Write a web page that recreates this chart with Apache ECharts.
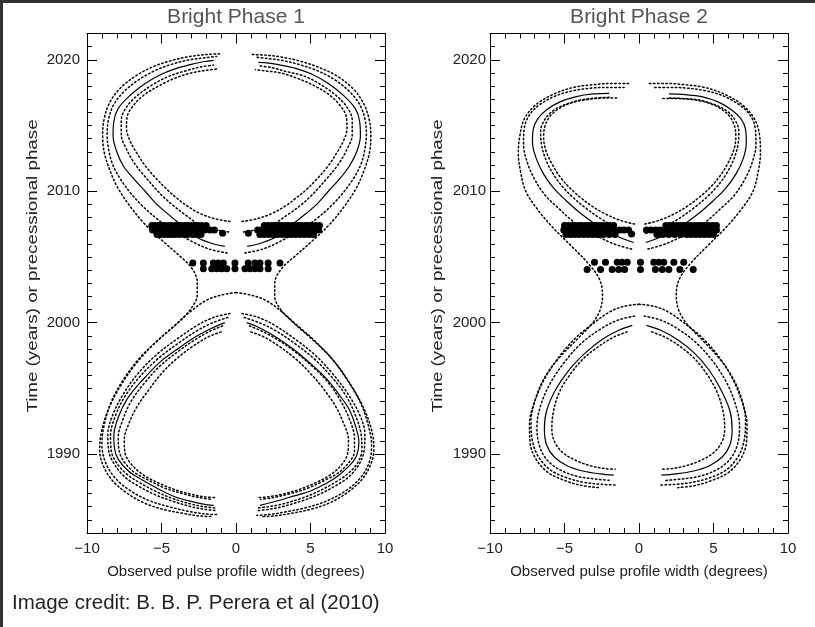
<!DOCTYPE html>
<html>
<head>
<meta charset="utf-8">
<script src="https://cdn.jsdelivr.net/npm/echarts@6/dist/echarts.min.js"></script>
<style>
  html, body { margin: 0; padding: 0; background: #fff; }
  #chart { width: 815px; height: 627px; }
</style>
</head>
<body>
<div id="chart"></div>
<script>
// ---- axes and labels ----
const widthRange = [-10, 10];
const yearRange = [1984, 2022];
const yearTicks = [1990, 2000, 2010, 2020];
const panelTitles = ['Bright Phase 1', 'Bright Phase 2'];
const xTitle = 'Observed pulse profile width (degrees)';
const yTitle = 'Time (years) or precessional phase';
const creditText = 'Image credit: B. B. P. Perera et al (2010)';

// ---- Bright Phase 1: best-fit model (solid), [width, year] ----
const bp1UpperLeft = [[-0.75,2005.8],[-1.8,2006.1],[-2.8,2006.6],[-3.75,2007.5],[-4.6,2008.3],[-5.4,2009.1],[-6.1,2010.0],[-6.9,2011.0],[-7.55,2011.9],[-8.0,2013.0],[-8.25,2014.2],[-8.2,2015.3],[-7.9,2016.3],[-7.1,2017.3],[-6.1,2018.2],[-5.0,2018.9],[-4.0,2019.35],[-3.0,2019.65],[-2.2,2019.85],[-1.5,2019.95]];
const bp1UpperRight = [[0.75,2005.8],[1.8,2006.1],[2.8,2006.6],[3.8,2007.5],[4.7,2008.3],[5.5,2009.1],[6.2,2010.0],[7.0,2011.0],[7.6,2011.9],[8.1,2013.0],[8.35,2014.2],[8.3,2015.3],[8.0,2016.3],[7.2,2017.3],[6.2,2018.2],[5.1,2018.9],[4.0,2019.35],[3.0,2019.6],[2.2,2019.75],[1.5,2019.8]];
const bp1LowerLeft = [[-0.75,2000.0],[-1.6,1999.6],[-2.6,1999.0],[-3.8,1998.1],[-5.1,1997.0],[-6.3,1995.6],[-7.3,1994.2],[-7.9,1992.8],[-8.2,1991.4],[-8.15,1990.4],[-7.9,1989.6],[-7.2,1988.7],[-6.4,1988.1],[-5.3,1987.4],[-4.2,1986.8],[-3.0,1986.4],[-2.2,1986.2],[-1.5,1986.1]];
const bp1LowerRight = [[0.72,2000.0],[1.6,1999.6],[2.7,1998.9],[3.84,1998.0],[5.0,1996.9],[6.1,1995.7],[7.0,1994.4],[7.6,1993.4],[8.0,1992.2],[8.25,1990.9],[8.1,1989.9],[7.6,1989.1],[6.9,1988.4],[6.1,1987.8],[5.0,1987.2],[3.84,1986.8],[2.8,1986.45],[1.6,1986.1]];

// ---- Bright Phase 1: alternative models (dotted) ----
const bp1InnerA_L = [[-0.4,2007.7],[-1.4,2007.9],[-2.4,2008.3],[-3.3,2008.9],[-4.0,2009.5],[-4.6,2010.1],[-5.3,2010.9],[-6.0,2011.8],[-6.6,2012.8],[-7.1,2013.8],[-7.35,2014.8],[-7.3,2015.7],[-6.9,2016.5],[-6.2,2017.3],[-5.2,2018.0],[-4.1,2018.6],[-3.0,2019.0],[-2.0,2019.2],[-1.3,2019.3]];
const bp1InnerB_L = [[-0.5,2006.9],[-1.5,2007.1],[-2.5,2007.5],[-3.4,2008.2],[-4.2,2008.9],[-4.9,2009.6],[-5.4,2010.2],[-6.1,2011.1],[-6.8,2012.1],[-7.35,2013.2],[-7.7,2014.3],[-7.7,2015.4],[-7.35,2016.4],[-6.6,2017.3],[-5.6,2018.1],[-4.5,2018.75],[-3.4,2019.15],[-2.4,2019.45],[-1.5,2019.6]];
const bp1OuterA_L = [[-0.6,2005.3],[-1.8,2005.6],[-3.0,2006.2],[-4.2,2007.0],[-5.3,2007.9],[-6.3,2008.9],[-7.1,2009.9],[-7.8,2011.0],[-8.3,2012.1],[-8.55,2013.2],[-8.65,2014.3],[-8.55,2015.5],[-8.2,2016.6],[-7.5,2017.6],[-6.5,2018.5],[-5.3,2019.25],[-4.2,2019.7],[-3.1,2020.0],[-2.1,2020.15],[-1.3,2020.25]];
const bp1Through_L = [[-1.1,2020.45],[-2.0,2020.4],[-3.1,2020.25],[-4.3,2019.95],[-5.5,2019.5],[-6.7,2018.8],[-7.8,2017.8],[-8.5,2016.7],[-8.85,2015.5],[-8.95,2014.3],[-8.85,2013.0],[-8.5,2011.7],[-8.0,2010.4],[-7.2,2009.0],[-6.2,2007.6],[-5.0,2006.3],[-3.9,2005.2],[-3.0,2004.2],[-2.6,2003.1],[-2.6,2002.1],[-3.0,2001.1],[-3.8,2000.1],[-5.0,1998.9],[-6.4,1997.4],[-7.6,1995.6],[-8.4,1993.9],[-8.85,1992.2],[-9.0,1990.8],[-8.8,1989.5],[-8.2,1988.3],[-7.2,1987.3],[-5.9,1986.5],[-4.5,1986.0],[-3.2,1985.65],[-2.1,1985.45],[-1.3,1985.4]];
const bp1LowOuter_L = [[-0.4,2000.7],[-1.5,2000.4],[-2.6,1999.8],[-3.9,1998.8],[-5.3,1997.6],[-6.6,1996.1],[-7.6,1994.5],[-8.3,1992.9],[-8.6,1991.5],[-8.55,1990.3],[-8.2,1989.3],[-7.5,1988.3],[-6.6,1987.6],[-5.4,1986.9],[-4.2,1986.4],[-3.0,1986.0],[-2.1,1985.8],[-1.3,1985.7]];
const bp1LowOuterB_L = [[-0.55,2000.4],[-1.55,2000.0],[-2.6,1999.4],[-3.85,1998.45],[-5.2,1997.3],[-6.45,1995.9],[-7.45,1994.4],[-8.1,1992.9],[-8.42,1991.4],[-8.38,1990.3],[-8.05,1989.4],[-7.35,1988.5],[-6.5,1987.85],[-5.35,1987.15],[-4.2,1986.6],[-3.0,1986.2],[-2.15,1986.0],[-1.35,1985.9]];
const bp1Dome_L = [[0,2002.3],[-1.0,2002.1],[-2.0,2001.7],[-3.0,2000.9],[-4.1,1999.8],[-5.4,1998.5],[-6.7,1996.9],[-7.8,1995.1],[-8.6,1993.3],[-9.05,1991.6],[-9.15,1990.3],[-8.9,1989.1],[-8.3,1988.0],[-7.4,1987.1],[-6.2,1986.3],[-4.9,1985.8],[-3.6,1985.5],[-2.5,1985.3],[-1.7,1985.25]];
const bp1LowInner_L = [[-0.9,1999.75],[-1.75,1999.35],[-2.75,1998.7],[-3.9,1997.8],[-5.1,1996.7],[-6.15,1995.4],[-7.05,1994.0],[-7.6,1992.6],[-7.9,1991.3],[-7.85,1990.3],[-7.5,1989.4],[-6.8,1988.6],[-5.85,1988.0],[-4.75,1987.4],[-3.6,1987.0],[-2.5,1986.7],[-1.6,1986.55]];
const bp1LowInnerB_L = [[-1.0,1999.3],[-1.9,1998.9],[-2.9,1998.2],[-3.95,1997.3],[-4.95,1996.2],[-5.85,1994.9],[-6.65,1993.6],[-7.2,1992.3],[-7.5,1991.1],[-7.45,1990.1],[-7.0,1989.2],[-6.2,1988.4],[-5.2,1987.8],[-4.1,1987.3],[-3.0,1986.95],[-2.1,1986.75],[-1.4,1986.7]];
const bp1InnerA_R = [[0.4,2007.7],[1.4,2007.9],[2.4,2008.3],[3.35,2008.9],[4.05,2009.5],[4.7,2010.1],[5.4,2010.9],[6.1,2011.8],[6.7,2012.8],[7.2,2013.8],[7.45,2014.8],[7.4,2015.7],[7.0,2016.5],[6.3,2017.3],[5.3,2018.0],[4.1,2018.6],[3.0,2019.0],[2.0,2019.15],[1.3,2019.25]];
const bp1InnerB_R = [[0.5,2006.9],[1.5,2007.1],[2.5,2007.5],[3.45,2008.2],[4.3,2008.9],[5.0,2009.6],[5.5,2010.2],[6.2,2011.1],[6.9,2012.1],[7.45,2013.2],[7.8,2014.3],[7.8,2015.4],[7.45,2016.4],[6.7,2017.3],[5.7,2018.1],[4.6,2018.75],[3.4,2019.1],[2.4,2019.4],[1.5,2019.55]];
const bp1OuterA_R = [[0.6,2005.3],[1.8,2005.6],[3.0,2006.2],[4.25,2007.0],[5.4,2007.9],[6.4,2008.9],[7.2,2009.9],[7.9,2011.0],[8.4,2012.1],[8.65,2013.2],[8.75,2014.3],[8.65,2015.5],[8.3,2016.6],[7.6,2017.6],[6.6,2018.5],[5.4,2019.2],[4.2,2019.65],[3.1,2019.95],[2.1,2020.1],[1.3,2020.2]];
const bp1Through_R = [[1.1,2020.4],[2.0,2020.35],[3.1,2020.2],[4.3,2019.9],[5.5,2019.45],[6.8,2018.75],[7.9,2017.75],[8.6,2016.6],[8.95,2015.4],[9.05,2014.2],[8.95,2012.9],[8.6,2011.6],[8.1,2010.3],[7.3,2008.9],[6.3,2007.5],[5.1,2006.2],[4.0,2005.1],[3.05,2004.1],[2.6,2003.0],[2.6,2002.0],[3.0,2001.0],[3.85,2000.0],[5.05,1998.8],[6.4,1997.3],[7.55,1995.5],[8.4,1993.8],[8.9,1992.1],[9.1,1990.7],[8.95,1989.4],[8.35,1988.2],[7.35,1987.2],[6.0,1986.4],[4.6,1985.9],[3.3,1985.6],[2.2,1985.4],[1.4,1985.35]];
const bp1LowOuter_R = [[0.4,2000.7],[1.5,2000.4],[2.6,1999.8],[3.9,1998.8],[5.25,1997.6],[6.5,1996.1],[7.5,1994.6],[8.3,1993.0],[8.65,1991.5],[8.6,1990.3],[8.3,1989.3],[7.6,1988.3],[6.7,1987.6],[5.5,1986.9],[4.3,1986.4],[3.1,1986.0],[2.2,1985.8],[1.4,1985.7]];
const bp1LowOuterB_R = [[0.55,2000.4],[1.55,2000.0],[2.65,1999.4],[3.9,1998.45],[5.2,1997.3],[6.4,1995.9],[7.35,1994.5],[8.0,1993.0],[8.4,1991.5],[8.45,1990.4],[8.2,1989.4],[7.5,1988.5],[6.65,1987.85],[5.5,1987.15],[4.3,1986.6],[3.1,1986.2],[2.2,1986.0],[1.4,1985.9]];
const bp1Dome_R = [[0,2002.3],[1.0,2002.1],[2.0,2001.7],[3.0,2000.9],[4.1,1999.8],[5.4,1998.5],[6.7,1996.9],[7.8,1995.1],[8.65,1993.3],[9.15,1991.6],[9.25,1990.3],[9.0,1989.1],[8.4,1988.0],[7.5,1987.1],[6.3,1986.3],[5.0,1985.8],[3.7,1985.5],[2.6,1985.3],[1.8,1985.25]];
const bp1LowInner_R = [[0.9,1999.75],[1.75,1999.35],[2.8,1998.7],[3.95,1997.8],[5.1,1996.7],[6.15,1995.5],[7.0,1994.1],[7.6,1992.7],[7.95,1991.2],[7.95,1990.2],[7.6,1989.4],[6.9,1988.6],[5.95,1988.0],[4.8,1987.4],[3.65,1987.0],[2.55,1986.7],[1.65,1986.55]];
const bp1LowInnerB_R = [[1.0,1999.3],[1.9,1998.9],[2.9,1998.2],[3.95,1997.3],[4.95,1996.2],[5.85,1995.0],[6.65,1993.7],[7.2,1992.4],[7.55,1991.1],[7.5,1990.1],[7.1,1989.2],[6.3,1988.4],[5.3,1987.8],[4.2,1987.3],[3.1,1986.95],[2.15,1986.75],[1.45,1986.7]];

// ---- Bright Phase 1: measured widths ----
const bp1Observed = [
  [-5.65,2007.4],[-5.45,2007.4],[-5.2,2007.4],[-5.0,2007.4],[-4.8,2007.4],[-4.55,2007.4],[-4.35,2007.4],[-4.1,2007.4],[-3.9,2007.4],[-3.7,2007.4],[-3.45,2007.4],[-3.25,2007.4],[-3.0,2007.4],[-2.8,2007.4],[-2.55,2007.4],[-2.3,2007.4],[-2.0,2007.4],
  [-5.6,2007.05],[-5.4,2007.05],[-5.15,2007.05],[-4.95,2007.05],[-4.7,2007.05],[-4.5,2007.05],[-4.3,2007.05],[-4.05,2007.05],[-3.85,2007.05],[-3.6,2007.05],[-3.4,2007.05],[-3.2,2007.05],[-2.95,2007.05],[-2.7,2007.05],[-2.4,2007.05],[-2.1,2007.05],[-1.75,2007.05],[-1.45,2007.05],
  [-5.3,2006.7],[-5.05,2006.7],[-4.8,2006.7],[-4.55,2006.7],[-4.35,2006.7],[-4.1,2006.7],[-3.8,2006.7],[-3.5,2006.7],[-3.25,2006.7],[-2.9,2006.7],[-2.6,2006.7],[-2.35,2006.7],[-0.9,2006.8],
  [1.9,2007.4],[2.15,2007.4],[2.4,2007.4],[2.6,2007.4],[2.85,2007.4],[3.05,2007.4],[3.3,2007.4],[3.5,2007.4],[3.75,2007.4],[3.95,2007.4],[4.2,2007.4],[4.4,2007.4],[4.65,2007.4],[4.85,2007.4],[5.1,2007.4],[5.35,2007.4],[5.6,2007.4],
  [1.45,2007.05],[1.7,2007.05],[2.0,2007.05],[2.25,2007.05],[2.5,2007.05],[2.75,2007.05],[3.0,2007.05],[3.2,2007.05],[3.45,2007.05],[3.7,2007.05],[3.9,2007.05],[4.15,2007.05],[4.4,2007.05],[4.6,2007.05],[4.85,2007.05],[5.1,2007.05],[5.35,2007.05],[5.55,2007.05],
  [0.83,2006.8],[1.6,2006.7],[1.9,2006.7],[2.2,2006.7],[2.5,2006.7],[2.8,2006.7],[3.1,2006.7],[3.4,2006.7],[3.7,2006.7],[4.0,2006.7],[4.3,2006.7],[4.6,2006.7],[4.9,2006.7],[5.2,2006.7],
  [-2.9,2004.55],[-2.19,2004.55],[-1.52,2004.55],[-1.19,2004.55],[-0.85,2004.55],[-0.07,2004.55],[0.82,2004.55],[1.27,2004.55],[1.61,2004.55],[2.16,2004.55],[2.95,2004.55],
  [-2.19,2004.1],[-1.63,2004.1],[-1.29,2004.1],[-0.96,2004.1],[-0.62,2004.1],[-0.07,2004.1],[0.6,2004.1],[0.94,2004.1],[1.27,2004.1],[1.61,2004.1],[2.16,2004.1]
];

// ---- Bright Phase 2: best-fit model (solid) ----
const bp2UpperLeft = [[-0.35,2006.1],[-1.5,2006.6],[-2.8,2007.4],[-3.9,2008.3],[-4.9,2009.3],[-5.7,2010.2],[-6.4,2011.3],[-6.9,2012.5],[-7.15,2013.7],[-7.1,2014.7],[-6.8,2015.5],[-6.2,2016.2],[-5.3,2016.8],[-4.2,2017.2],[-3.1,2017.4],[-2.0,2017.45]];
const bp2UpperRight = [[0.45,2006.1],[1.6,2006.6],[2.9,2007.4],[4.0,2008.3],[5.0,2009.3],[5.8,2010.2],[6.5,2011.3],[7.0,2012.5],[7.2,2013.7],[7.15,2014.7],[6.85,2015.5],[6.2,2016.2],[5.3,2016.8],[4.2,2017.2],[3.1,2017.35],[2.0,2017.4]];
const bp2LowerLeft = [[-0.45,1999.8],[-1.4,1999.4],[-2.5,1998.7],[-3.6,1997.7],[-4.7,1996.4],[-5.6,1994.9],[-6.2,1993.3],[-6.35,1991.9],[-6.2,1990.7],[-5.7,1989.8],[-4.8,1989.1],[-3.7,1988.7],[-2.6,1988.5],[-1.7,1988.4]];
const bp2LowerRight = [[0.5,1999.8],[1.5,1999.4],[2.6,1998.7],[3.7,1997.7],[4.7,1996.4],[5.5,1994.9],[6.1,1993.3],[6.25,1991.9],[6.1,1990.7],[5.6,1989.8],[4.7,1989.1],[3.6,1988.7],[2.5,1988.5],[1.5,1988.4]];

// ---- Bright Phase 2: alternative models (dotted) ----
const bp2InnerA_L = [[-0.3,2007.5],[-1.3,2007.8],[-2.3,2008.3],[-3.2,2008.9],[-3.9,2009.5],[-4.6,2010.2],[-5.3,2011.1],[-5.85,2012.1],[-6.25,2013.1],[-6.4,2014.1],[-6.3,2015.0],[-5.9,2015.8],[-5.2,2016.4],[-4.3,2016.8],[-3.3,2017.0],[-2.3,2017.1],[-1.5,2017.1]];
const bp2InnerB_L = [[-0.3,2006.8],[-1.4,2007.2],[-2.55,2007.9],[-3.55,2008.7],[-4.4,2009.5],[-5.1,2010.3],[-5.75,2011.3],[-6.25,2012.4],[-6.55,2013.6],[-6.6,2014.6],[-6.35,2015.4],[-5.8,2016.1],[-4.95,2016.6],[-3.9,2016.95],[-2.85,2017.1],[-1.9,2017.15]];
const bp2OuterA_L = [[-0.5,2005.6],[-1.7,2006.0],[-3.0,2006.7],[-4.3,2007.6],[-5.4,2008.7],[-6.3,2009.7],[-7.0,2010.9],[-7.5,2012.2],[-7.75,2013.6],[-7.7,2014.8],[-7.35,2015.8],[-6.65,2016.6],[-5.6,2017.25],[-4.4,2017.65],[-3.15,2017.85],[-1.95,2017.9],[-1.0,2017.9]];
const bp2Through_L = [[-0.7,2018.2],[-1.8,2018.2],[-3.1,2018.1],[-4.4,2017.9],[-5.7,2017.4],[-6.9,2016.6],[-7.7,2015.5],[-8.0,2014.2],[-8.1,2012.9],[-7.95,2011.5],[-7.6,2010.0],[-6.8,2008.6],[-5.75,2007.2],[-4.6,2005.9],[-3.4,2004.5],[-2.65,2003.3],[-2.45,2002.1],[-2.6,2001.0],[-3.1,2000.0],[-4.1,1998.8],[-5.3,1997.4],[-6.3,1995.9],[-6.95,1994.2],[-7.25,1992.5],[-7.15,1991.0],[-6.75,1989.8],[-5.95,1988.8],[-4.85,1988.2],[-3.65,1987.85],[-2.5,1987.7],[-1.5,1987.65]];
const bp2LowOuter_L = [[-0.3,2000.5],[-1.4,2000.2],[-2.6,1999.5],[-3.9,1998.4],[-5.0,1997.0],[-5.95,1995.4],[-6.6,1993.7],[-6.85,1992.1],[-6.7,1990.7],[-6.2,1989.6],[-5.3,1988.8],[-4.1,1988.3],[-2.9,1988.1],[-1.9,1988.0]];
const bp2Dome_L = [[0,2001.4],[-1.0,2001.25],[-2.0,2000.8],[-3.0,2000.0],[-4.2,1998.9],[-5.3,1997.5],[-6.3,1995.8],[-7.0,1994.0],[-7.35,1992.3],[-7.3,1990.8],[-6.9,1989.6],[-6.1,1988.6],[-5.0,1988.0],[-3.8,1987.6],[-2.7,1987.45]];
const bp2LowInner_L = [[-0.8,1999.3],[-1.7,1998.9],[-2.7,1998.2],[-3.7,1997.3],[-4.6,1996.1],[-5.35,1994.7],[-5.75,1993.2],[-5.85,1991.9],[-5.65,1990.9],[-5.1,1990.1],[-4.2,1989.5],[-3.2,1989.1],[-2.3,1988.9],[-1.6,1988.85]];
const bp2InnerA_R = [[0.4,2007.5],[1.4,2007.8],[2.4,2008.3],[3.3,2008.9],[4.0,2009.5],[4.7,2010.2],[5.4,2011.1],[5.95,2012.1],[6.35,2013.1],[6.5,2014.1],[6.4,2015.0],[6.0,2015.8],[5.3,2016.4],[4.4,2016.8],[3.4,2017.0],[2.4,2017.05],[1.6,2017.05]];
const bp2InnerB_R = [[0.45,2006.8],[1.5,2007.2],[2.65,2007.9],[3.65,2008.7],[4.5,2009.5],[5.2,2010.3],[5.85,2011.3],[6.35,2012.4],[6.65,2013.6],[6.7,2014.6],[6.45,2015.4],[5.9,2016.1],[5.05,2016.6],[4.0,2016.95],[2.95,2017.05],[2.0,2017.1]];
const bp2OuterA_R = [[0.6,2005.6],[1.8,2006.0],[3.1,2006.7],[4.4,2007.6],[5.5,2008.7],[6.4,2009.7],[7.1,2010.9],[7.6,2012.2],[7.85,2013.6],[7.8,2014.8],[7.45,2015.8],[6.7,2016.6],[5.65,2017.25],[4.45,2017.65],[3.15,2017.85],[1.95,2017.9],[1.0,2017.9]];
const bp2Through_R = [[0.7,2018.2],[1.8,2018.2],[3.1,2018.1],[4.4,2017.9],[5.7,2017.4],[6.9,2016.6],[7.75,2015.5],[8.1,2014.2],[8.15,2012.9],[8.0,2011.5],[7.65,2010.0],[6.85,2008.6],[5.8,2007.2],[4.65,2005.9],[3.45,2004.5],[2.7,2003.3],[2.5,2002.1],[2.65,2001.0],[3.15,2000.0],[4.15,1998.8],[5.3,1997.4],[6.25,1995.9],[6.9,1994.2],[7.15,1992.5],[7.05,1991.0],[6.65,1989.8],[5.85,1988.8],[4.75,1988.2],[3.55,1987.85],[2.4,1987.7],[1.4,1987.65]];
const bp2LowOuter_R = [[0.35,2000.5],[1.45,2000.2],[2.65,1999.5],[3.9,1998.4],[5.0,1997.0],[5.9,1995.4],[6.5,1993.7],[6.75,1992.1],[6.6,1990.7],[6.1,1989.6],[5.2,1988.8],[4.0,1988.3],[2.8,1988.1],[1.8,1988.0]];
const bp2Dome_R = [[0,2001.4],[1.0,2001.25],[2.0,2000.8],[3.0,2000.0],[4.2,1998.9],[5.3,1997.5],[6.25,1995.8],[6.9,1994.0],[7.25,1992.3],[7.2,1990.8],[6.8,1989.6],[6.0,1988.6],[4.9,1988.0],[3.7,1987.6],[2.6,1987.45]];
const bp2LowInner_R = [[0.85,1999.3],[1.75,1998.9],[2.75,1998.2],[3.7,1997.3],[4.55,1996.1],[5.25,1994.7],[5.65,1993.2],[5.75,1991.9],[5.55,1990.9],[5.0,1990.1],[4.1,1989.5],[3.1,1989.1],[2.2,1988.9],[1.5,1988.85]];

// ---- Bright Phase 2: measured widths ----
const bp2Observed = [
  [-5.0,2007.4],[-4.75,2007.4],[-4.5,2007.4],[-4.3,2007.4],[-4.05,2007.4],[-3.85,2007.4],[-3.6,2007.4],[-3.4,2007.4],[-3.15,2007.4],[-2.9,2007.4],[-2.7,2007.4],[-2.45,2007.4],[-2.2,2007.4],[-1.95,2007.4],[-1.7,2007.4],
  [-5.05,2007.05],[-4.8,2007.05],[-4.55,2007.05],[-4.3,2007.05],[-4.1,2007.05],[-3.85,2007.05],[-3.6,2007.05],[-3.4,2007.05],[-3.15,2007.05],[-2.9,2007.05],[-2.65,2007.05],[-2.4,2007.05],[-2.15,2007.05],[-1.9,2007.05],[-1.6,2007.05],[-1.3,2007.05],[-1.0,2007.05],[-0.7,2007.05],
  [-4.9,2006.7],[-4.6,2006.7],[-4.3,2006.7],[-4.0,2006.7],[-3.7,2006.7],[-3.4,2006.7],[-3.1,2006.7],[-2.8,2006.7],[-2.4,2006.7],[-2.0,2006.7],[-1.6,2006.7],[-0.5,2006.75],
  [1.8,2007.4],[2.05,2007.4],[2.3,2007.4],[2.55,2007.4],[2.8,2007.4],[3.0,2007.4],[3.25,2007.4],[3.5,2007.4],[3.75,2007.4],[4.0,2007.4],[4.2,2007.4],[4.45,2007.4],[4.7,2007.4],[4.95,2007.4],[5.2,2007.4],
  [0.5,2007.05],[0.8,2007.05],[1.1,2007.05],[1.4,2007.05],[1.7,2007.05],[1.95,2007.05],[2.2,2007.05],[2.45,2007.05],[2.7,2007.05],[2.95,2007.05],[3.2,2007.05],[3.45,2007.05],[3.7,2007.05],[3.95,2007.05],[4.2,2007.05],[4.45,2007.05],[4.7,2007.05],[4.95,2007.05],[5.2,2007.05],
  [1.2,2006.7],[1.6,2006.7],[2.0,2006.7],[2.4,2006.7],[2.8,2006.7],[3.2,2006.7],[3.5,2006.7],[3.8,2006.7],[4.1,2006.7],[4.4,2006.7],[4.7,2006.7],[5.0,2006.7],
  [-2.99,2004.6],[-2.25,2004.6],[-1.46,2004.6],[-1.13,2004.6],[-0.79,2004.6],[0.1,2004.6],[0.99,2004.6],[1.33,2004.6],[1.66,2004.6],[2.34,2004.6],[3.0,2004.6],
  [-3.48,2004.05],[-2.58,2004.05],[-1.8,2004.05],[-1.36,2004.05],[-0.97,2004.05],[0.1,2004.05],[1.1,2004.05],[1.56,2004.05],[2.0,2004.05],[2.74,2004.05],[3.64,2004.05]
];

const panels = [
  {
    solid: [bp1UpperLeft, bp1UpperRight, bp1LowerLeft, bp1LowerRight],
    dotted: [bp1InnerA_L, bp1InnerB_L, bp1OuterA_L, bp1Through_L, bp1LowOuter_L, bp1LowOuterB_L, bp1Dome_L, bp1LowInner_L, bp1LowInnerB_L,
             bp1InnerA_R, bp1InnerB_R, bp1OuterA_R, bp1Through_R, bp1LowOuter_R, bp1LowOuterB_R, bp1Dome_R, bp1LowInner_R, bp1LowInnerB_R],
    observed: bp1Observed
  },
  {
    solid: [bp2UpperLeft, bp2UpperRight, bp2LowerLeft, bp2LowerRight],
    dotted: [bp2InnerA_L, bp2InnerB_L, bp2OuterA_L, bp2Through_L, bp2LowOuter_L, bp2Dome_L, bp2LowInner_L,
             bp2InnerA_R, bp2InnerB_R, bp2OuterA_R, bp2Through_R, bp2LowOuter_R, bp2Dome_R, bp2LowInner_R],
    observed: bp2Observed
  }
];

// ---- layout ----
const FONT = 'Liberation Sans, Arial, sans-serif';
const INK = '#000';
const grids = [
  { left: 87, top: 33.5, width: 298, height: 499.5 },
  { left: 490, top: 33.5, width: 298, height: 499.5 }
];
const yLabelMargin = [7, 4];
const yTitlePos = [[33, 266], [438, 266]];

const xAxes = [];
const yAxes = [];
const series = [];

const signed = v => (v < 0 ? '\u2212' + (-v) : String(v));

grids.forEach((g, gi) => {
  const baseX = {
    type: 'value', gridIndex: gi, min: widthRange[0], max: widthRange[1], interval: 5,
    axisLine: { onZero: false, lineStyle: { color: INK, width: 1 } },
    axisTick: { inside: true, length: 10, lineStyle: { color: INK, width: 1 } },
    minorTick: { show: true, splitNumber: 5, length: 5, lineStyle: { color: INK, width: 1 } },
    splitLine: { show: false }
  };
  xAxes.push(Object.assign({}, baseX, {
    position: 'bottom',
    axisLabel: { margin: 8, fontFamily: FONT, fontSize: 15, color: '#222', formatter: signed },
    name: xTitle, nameLocation: 'middle', nameGap: 31,
    nameTextStyle: { fontFamily: FONT, fontSize: 15, color: '#222' }
  }));
  xAxes.push(Object.assign({}, baseX, {
    position: 'top',
    axisLabel: { show: false },
    name: panelTitles[gi], nameLocation: 'middle', nameGap: 6,
    nameTextStyle: { fontFamily: FONT, fontSize: 21, color: '#555' }
  }));

  ['left', 'right'].forEach(pos => {
    yAxes.push({
      type: 'value', gridIndex: gi, position: pos, min: yearRange[0], max: yearRange[1],
      axisLine: { onZero: false, lineStyle: { color: INK, width: 1 } },
      axisTick: { inside: true, length: 10, customValues: yearTicks, lineStyle: { color: INK, width: 1 } },
      axisLabel: pos === 'left'
        ? { customValues: yearTicks, margin: yLabelMargin[gi], fontFamily: FONT, fontSize: 15, color: '#222', formatter: v => String(v) }
        : { show: false },
      splitLine: { show: false }
    });
    yAxes.push({
      type: 'value', gridIndex: gi, position: pos, min: yearRange[0], max: yearRange[1], interval: 1,
      axisLine: { show: false, onZero: false },
      axisTick: { inside: true, length: 5, lineStyle: { color: INK, width: 1 } },
      axisLabel: { show: false },
      splitLine: { show: false }
    });
  });

  const p = panels[gi];
  const xi = gi * 2, yi = gi * 4;
  p.dotted.forEach(curve => {
    series.push({
      type: 'line', xAxisIndex: xi, yAxisIndex: yi, data: curve, smooth: 0.35,
      showSymbol: false, symbol: 'none', silent: true, animation: false,
      lineStyle: { color: INK, width: 1.5, type: [1.5, 2.6], cap: 'round' }
    });
  });
  p.solid.forEach(curve => {
    series.push({
      type: 'line', xAxisIndex: xi, yAxisIndex: yi, data: curve, smooth: 0.35,
      showSymbol: false, symbol: 'none', silent: true, animation: false,
      lineStyle: { color: INK, width: 1.2 }
    });
  });
  series.push({
    type: 'scatter', xAxisIndex: xi, yAxisIndex: yi, data: p.observed,
    symbol: 'circle', symbolSize: 7, silent: true, animation: false,
    itemStyle: { color: INK, opacity: 1 }
  });
});

const graphic = [
  { type: 'rect', shape: { x: 0, y: 0, width: 815, height: 3 }, style: { fill: '#333' }, silent: true },
  { type: 'rect', shape: { x: 0, y: 0, width: 3, height: 627 }, style: { fill: '#333' }, silent: true },
  { type: 'text', x: 12, y: 603, silent: true,
    style: { text: creditText, font: '20.5px ' + FONT, fill: '#222', textAlign: 'left', textVerticalAlign: 'middle' } }
];
yTitlePos.forEach(([x, y]) => {
  graphic.push({ type: 'text', x: x, y: y, rotation: Math.PI / 2, scaleX: 1.25, silent: true,
    style: { text: yTitle, font: '15px ' + FONT, fill: '#222', textAlign: 'center', textVerticalAlign: 'middle' } });
});

const chart = echarts.init(document.getElementById('chart'), null, { renderer: 'canvas' });
chart.setOption({
  animation: false,
  backgroundColor: '#fff',
  grid: grids,
  xAxis: xAxes,
  yAxis: yAxes,
  series: series,
  graphic: graphic
});
</script>
</body>
</html>
